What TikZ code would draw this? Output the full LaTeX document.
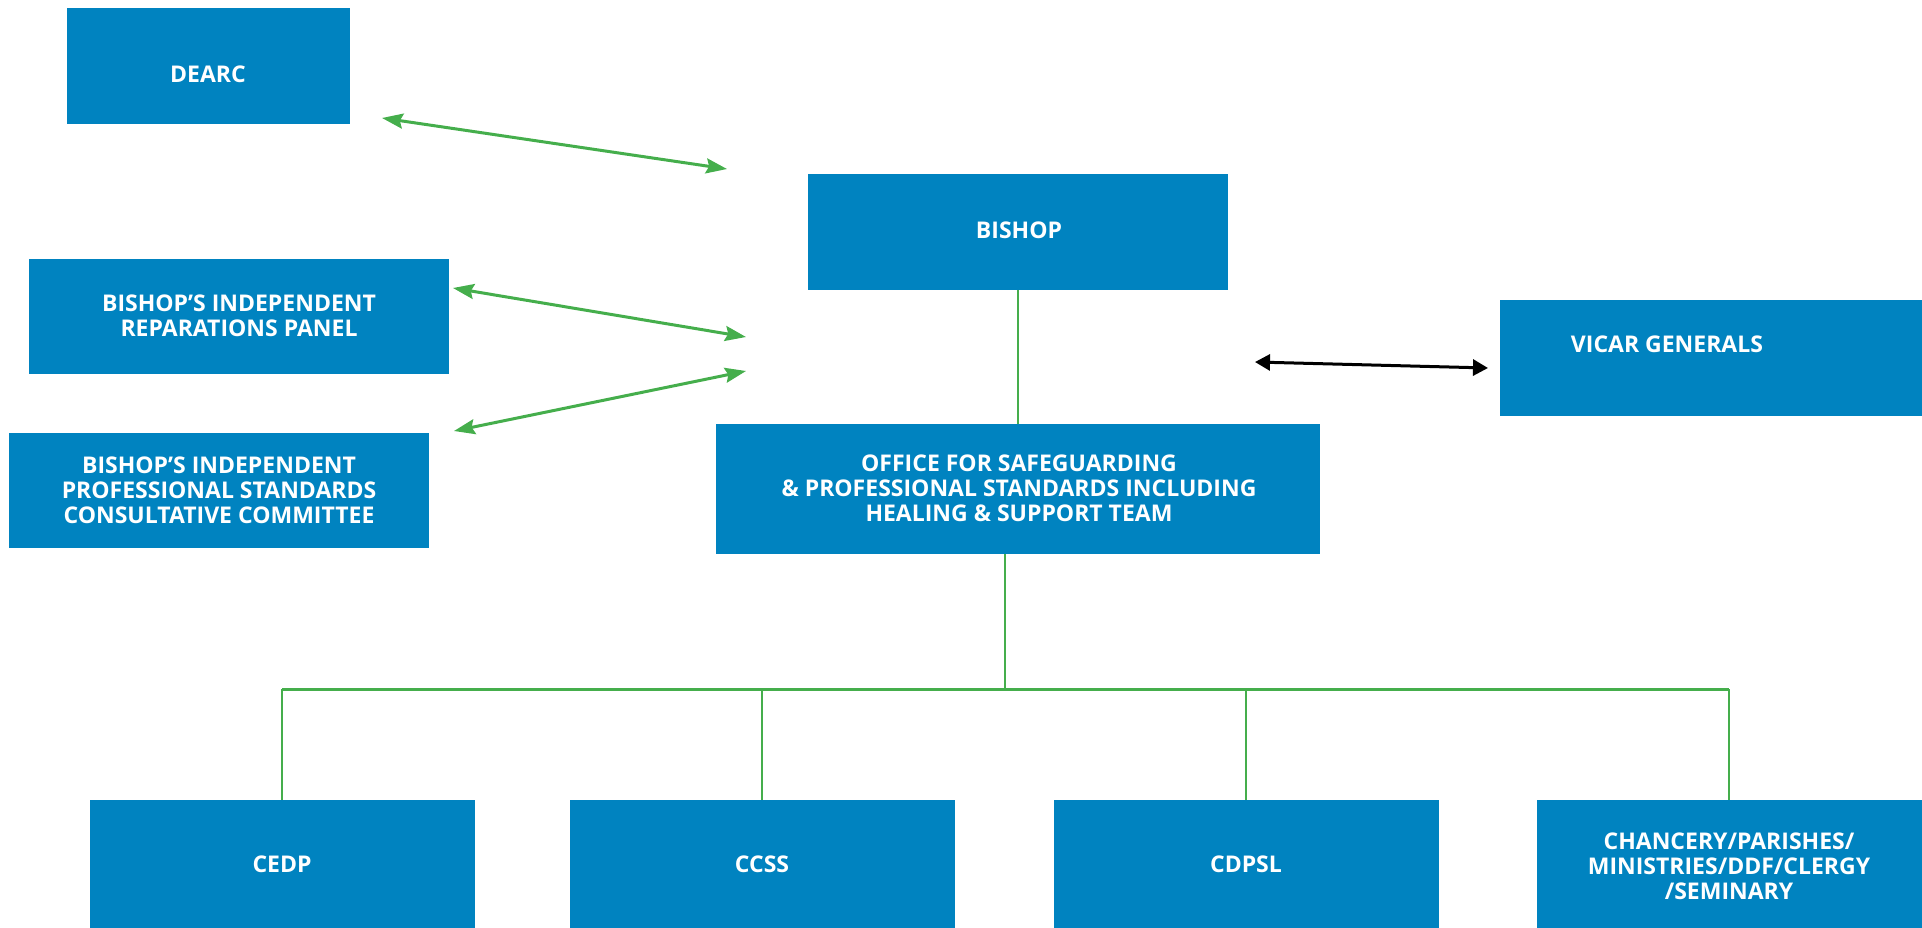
\documentclass[tikz,border=0pt]{standalone}
\usepackage{fontspec}
\setmainfont{Open Sans}
\usetikzlibrary{arrows.meta}
\definecolor{boxblue}{HTML}{0083C0}
\definecolor{linegreen}{HTML}{45AE4C}
\begin{document}
\begin{tikzpicture}[x=1pt,y=-1pt,
  box/.style={fill=boxblue, inner sep=0pt, anchor=center},
  txt/.style={text=white, font=\fontsize{23}{25}\selectfont\bfseries, align=center, inner sep=0pt},
  twoway/.style={linegreen, line width=3pt, {Stealth[length=21pt,width=15pt,inset=3pt]}-{Stealth[length=21pt,width=15pt,inset=3pt]}},
  tree/.style={linegreen, line width=2pt}]
 	\useasboundingbox (0,0) rectangle (1922,928);
 	\node[box, minimum width=283, minimum height=116] (dearc) at (208,66) {};
 	\node[txt] (dearctxt) at (208,74) {DEARC};
 	\node[box, minimum width=420, minimum height=115] (bishop) at (1018,232) {};
 	\node[txt] (bishoptxt) at (1019,230) {BISHOP};
 	\node[box, minimum width=420, minimum height=115] (birp) at (239,316) {};
 	\node[txt] (birptxt) at (239,316) {BISHOP’S INDEPENDENT\\REPARATIONS PANEL};
 	\node[box, minimum width=420, minimum height=115] (bipscc) at (219,490) {};
 	\node[txt] (bipscctxt) at (219,490) {BISHOP’S INDEPENDENT\\PROFESSIONAL STANDARDS\\CONSULTATIVE COMMITTEE};
 	\node[box, minimum width=422, minimum height=116] (vicar) at (1711,358) {};
 	\node[txt] (vicartxt) at (1667,344) {VICAR GENERALS};
 	\node[box, minimum width=604, minimum height=130] (office) at (1018,489) {};
 	\node[txt] (officetxt) at (1019,488) {OFFICE FOR SAFEGUARDING\\\& PROFESSIONAL STANDARDS INCLUDING\\HEALING \& SUPPORT TEAM};
 	\node[box, minimum width=385, minimum height=128] (cedp) at (282,864) {};
 	\node[txt] (cedptxt) at (cedp) {CEDP};
 	\node[box, minimum width=385, minimum height=128] (ccss) at (762,864) {};
 	\node[txt] (ccsstxt) at (ccss) {CCSS};
 	\node[box, minimum width=385, minimum height=128] (cdpsl) at (1246,864) {};
 	\node[txt] (cdpsltxt) at (cdpsl) {CDPSL};
 	\node[box, minimum width=385, minimum height=128] (chancery) at (1729,864) {};
 	\node[txt] (chancerytxt) at (1729,866) {CHANCERY/PARISHES/\\MINISTRIES/DDF/CLERGY\\/SEMINARY};
 	\coordinate (d1) at (382,118);
 	\coordinate (d2) at (727,169);
 	\coordinate (r1) at (453,288);
 	\coordinate (r2) at (746,337);
 	\coordinate (c1) at (454,431);
 	\coordinate (c2) at (746,371);
 	\coordinate (v1) at (1255,362);
 	\coordinate (v2) at (1488,368);
 	\coordinate (split) at (1005,689);
 	\draw[twoway] (d1) -- (d2);
 	\draw[twoway] (r1) -- (r2);
 	\draw[twoway] (c1) -- (c2);
 	\draw[line width=3pt, {Triangle[length=15pt,width=16pt]}-{Triangle[length=15pt,width=16pt]}] (v1) -- (v2);
 	\draw[tree] (bishop.south) -- (office.north);
 	\draw[tree] (office.south -| split) -- (split);
 	\draw[linegreen, line width=3pt] (cedp.north |- split) -- (chancery.north |- split);
 	\draw[tree] (cedp.north |- split) -- (cedp.north);
 	\draw[tree] (ccss.north |- split) -- (ccss.north);
 	\draw[tree] (cdpsl.north |- split) -- (cdpsl.north);
 	\draw[tree] (chancery.north |- split) -- (chancery.north);
\end{tikzpicture}
\end{document}
